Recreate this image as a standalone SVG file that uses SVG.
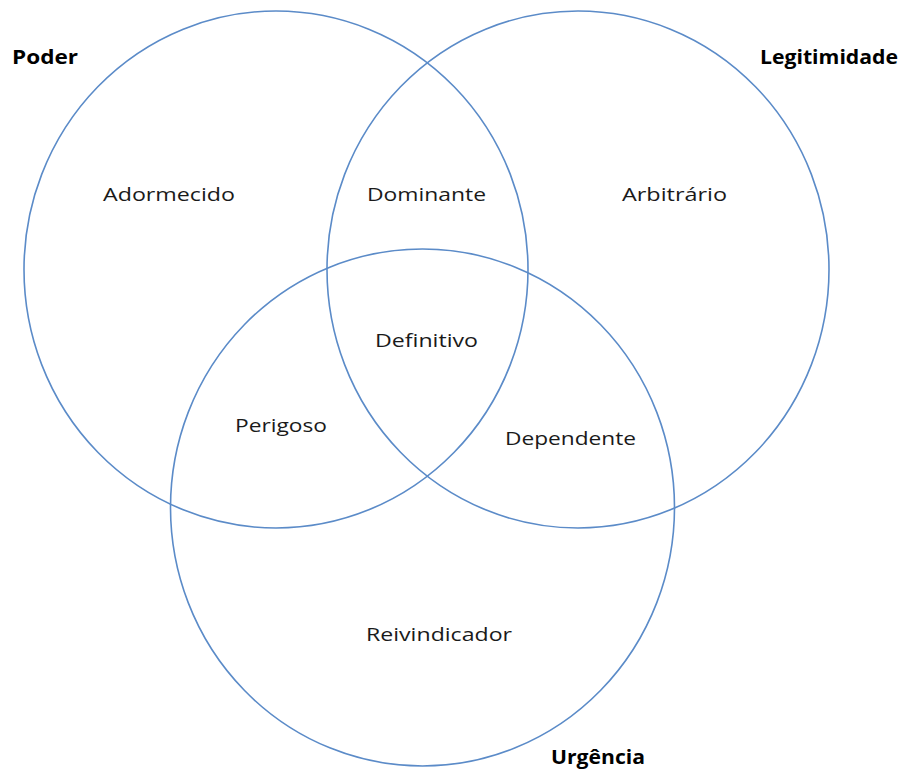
<svg xmlns="http://www.w3.org/2000/svg" width="901" height="772" viewBox="0 0 901 772">
  <style>
    .set { fill: none; stroke: #5B8BC8; stroke-width: 1.6; }
    .region { font-family: "Open Sans", "Liberation Sans", Arial, sans-serif; font-size: 19px; fill: #1a1a1a; text-anchor: middle; }
    .title { font-family: "Open Sans", "Liberation Sans", Arial, sans-serif; font-size: 19px; font-weight: bold; fill: #000; }
  </style>
  <rect width="901" height="772" fill="#fff"/>
  <!-- three overlapping sets -->
  <g id="sets">
    <ellipse id="poder" class="set" cx="276" cy="269.5" rx="252" ry="258.5"/>
    <ellipse id="legitimidade" class="set" cx="578" cy="269.5" rx="251" ry="258.5"/>
    <ellipse id="urgencia" class="set" cx="422.5" cy="507.5" rx="252" ry="258.5"/>
  </g>
  <!-- set names -->
  <g id="titles">
    <text class="title" x="12" y="64" textLength="66" lengthAdjust="spacingAndGlyphs">Poder</text>
    <text class="title" x="760" y="64" textLength="138" lengthAdjust="spacingAndGlyphs">Legitimidade</text>
    <text class="title" x="551" y="764" textLength="94" lengthAdjust="spacingAndGlyphs">Urgência</text>
  </g>
  <!-- region labels -->
  <g id="regions">
    <text class="region" x="169" y="201" textLength="132" lengthAdjust="spacingAndGlyphs">Adormecido</text>
    <text class="region" x="426.5" y="201" textLength="119" lengthAdjust="spacingAndGlyphs">Dominante</text>
    <text class="region" x="674.5" y="201" textLength="105" lengthAdjust="spacingAndGlyphs">Arbitrário</text>
    <text class="region" x="426.5" y="347" textLength="103" lengthAdjust="spacingAndGlyphs">Definitivo</text>
    <text class="region" x="281" y="432" textLength="92" lengthAdjust="spacingAndGlyphs">Perigoso</text>
    <text class="region" x="570.5" y="445" textLength="131" lengthAdjust="spacingAndGlyphs">Dependente</text>
    <text class="region" x="439" y="641" textLength="146" lengthAdjust="spacingAndGlyphs">Reivindicador</text>
  </g>
</svg>
